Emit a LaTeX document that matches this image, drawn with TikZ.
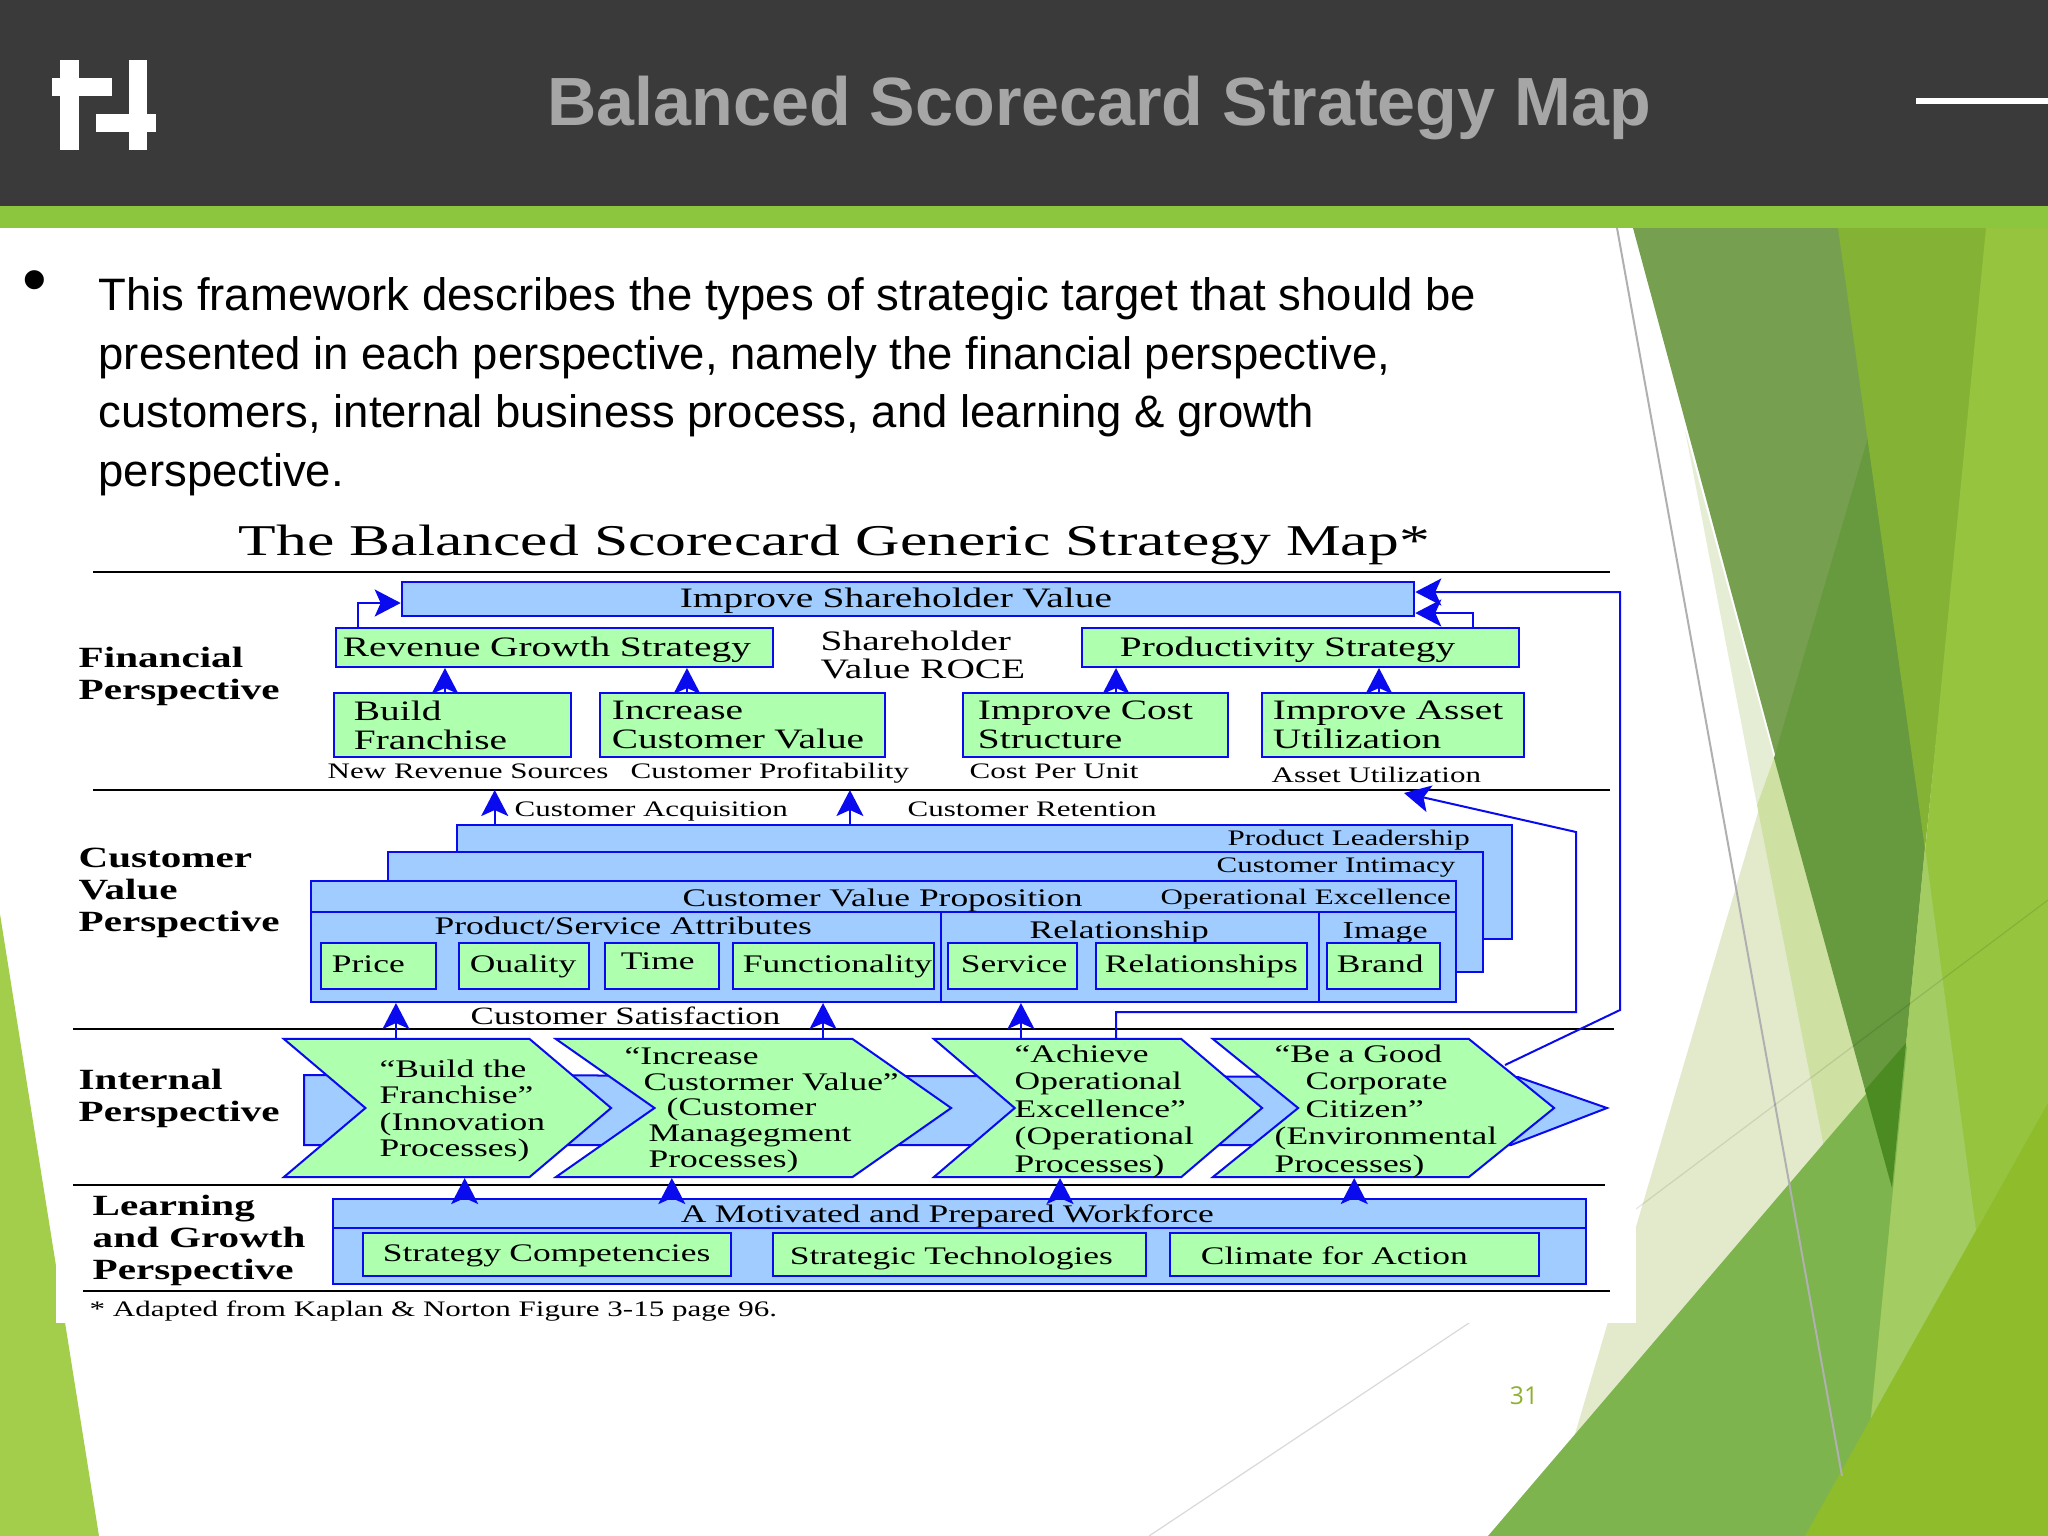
\documentclass[tikz,border=0pt]{standalone}
\usepackage{fontspec}
\setmainfont{Liberation Sans}
\newfontfamily\mapfont[FakeStretch=1.4]{Liberation Serif}
\newfontfamily\numfont{Open Sans}
\usepackage{xcolor}
\usepackage{tikz}
\usetikzlibrary{arrows.meta, shapes.symbols}
\definecolor{lineblue}{HTML}{0A0AEE}
\definecolor{boxblue}{HTML}{A0CCFF}
\definecolor{boxgreen}{HTML}{AEFFAE}
\definecolor{headdark}{HTML}{3A3A3A}
\definecolor{headgreen}{HTML}{8CC63F}
\tikzset{
mapbox/.style = {rectangle, draw=lineblue, line width=.02cm, inner ysep=0pt, align=left,
                 font=\mapfont\fontsize{7.2}{8.3}\selectfont},
finbox/.style = {font=\mapfont\fontsize{8}{8.3}\selectfont},
base/.style = {text depth=.02cm, text height=#1}
}
\tikzset{
gbox/.style = {mapbox, fill=boxgreen},
bbox/.style = {mapbox, fill=boxblue}
}
\tikzset{
chev/.style = {signal, signal to=east, signal from=west, draw=lineblue, fill=boxgreen,
               line width=.02cm, inner sep=0pt, minimum height=1.38cm}
}
\tikzset{
lbl/.style = {inner sep=0pt, anchor=base west, align=left,
              font=\mapfont\fontsize{7.2}{8.3}\selectfont},
lblsm/.style = {lbl, font=\mapfont\fontsize{6.3}{8}\selectfont},
lblbf/.style = {lbl, anchor=north west, font=\mapfont\bfseries\fontsize{8.35}{9.1}\selectfont},
lblch/.style = {lbl, anchor=north west, font=\mapfont\fontsize{7.2}{#1}\selectfont},
lblch/.default = 7.8
}
\tikzset{
arrow/.style = {draw=lineblue, line width=.02cm, -{Stealth[length=.26cm,width=.27cm,inset=.06cm]}},
rule/.style = {draw=black, line width=.02cm}
}
\begin{document}
\begin{tikzpicture}[x=.01cm,y=-.01cm]
    \useasboundingbox (0,0) rectangle (2048,1536);

    % facets behind the slide
    \fill[fill=white] (0,0) rectangle (2048,1536);
    \fill[fill={rgb,255:red,162;green,206;blue,76}] (0,914) -- (99,1536) -- (0,1536) -- cycle;
    \fill[fill={rgb,255:red,227;green,234;blue,203}] (1545,1536) -- (1930,228) -- (2048,228) -- (2048,1536) -- cycle;
    \fill[fill={rgb,255:red,230;green,237;blue,213}] (1685,430) -- (1774,758) -- (1757,805) -- cycle;
    \fill[fill={rgb,255:red,207;green,224;blue,163}] (1757,805) -- (1774,758) -- (1892,1188) -- (1900,1536) -- cycle;
    \fill[fill={rgb,255:red,118;green,160;blue,80}] (1633,228) -- (1840,228) -- (1925,847) -- (1892,1188) -- cycle;
    \fill[fill={rgb,255:red,103;green,153;blue,63}] (1869,434) -- (1925,847) -- (1892,1188) -- (1774,758) -- cycle;
    \fill[fill={rgb,255:red,132;green,178;blue,52}] (1838,228) -- (1989,228) -- (1925,849) -- cycle;
    \fill[fill={rgb,255:red,151;green,196;blue,63}] (1986,228) -- (2048,228) -- (2048,1536) -- (1858,1536) -- cycle;
    \fill[fill={rgb,255:red,163;green,204;blue,98}] (1925,847) -- (1976,1230) -- (1871,1418) -- cycle;
    \fill[fill={rgb,255:red,125;green,180;blue,78}] (1488,1536) -- (1907,1046) -- (1859,1536) -- cycle;
    \fill[fill={rgb,255:red,143;green,188;blue,43}] (1805,1536) -- (2048,1103) -- (2048,1536) -- cycle;
    \fill[fill={rgb,255:red,76;green,138;blue,34}] (1865,1090) -- (1906,1043) -- (1892,1188) -- cycle;
    \draw[draw={rgb,255:red,176;green,176;blue,176}, line width=.02cm] (1617,228) -- (1842,1476);
    \draw[draw=black, opacity=.1, line width=.012cm] (1636,1209) -- (2048,900);
    \draw[draw=black!15, line width=.012cm] (1149,1536) -- (1469,1323);
    \fill[fill=white] (56,516) rectangle (1636,1323);

    % header
    \fill[fill=headdark] (0,0) rectangle (2048,206);
    \fill[fill=headgreen] (0,206) rectangle (2048,228);
    \fill[fill=white] (60,60) rectangle (79,150);
    \fill[fill=white] (52,78) rectangle (112,96);
    \fill[fill=white] (129,60) rectangle (147,150);
    \fill[fill=white] (96,114) rectangle (156,132);
    \fill[fill=white] (1916,98) rectangle (2048,104);
    \node[inner sep=0pt, anchor=base west, text={rgb,255:red,166;green,166;blue,166},
          font=\bfseries\fontsize{19.4}{23}\selectfont] (slideTitle) at (547,125) {Balanced Scorecard Strategy Map};

    % slide text
    \node[inner sep=0pt, anchor=base west, font=\fontsize{12.4}{15}\selectfont] (bullet) at (22,303) {\fontsize{20}{20}\selectfont •};
    \node[inner sep=0pt, anchor=north west, align=left, font=\fontsize{12.93}{16.64}\selectfont] (bodyText) at (98,277)
        {This framework describes the types of strategic target that should be\\
         presented in each perspective, namely the financial perspective,\\
         customers, internal business process, and learning \& growth\\
         perspective.};
    \node[inner sep=0pt, text={rgb,255:red,143;green,176;blue,47}, font=\numfont\fontsize{7}{8}\selectfont] (slideNum) at (1524,1396) {31};

    % map title and rules
    \node[lbl, font=\mapfont\fontsize{12.5}{14}\selectfont] (mapTitle) at (238,555) {The Balanced Scorecard Generic Strategy Map*};
    \coordinate (rule1L) at (93,572);   \coordinate (rule1R) at (1610,572);
    \coordinate (rule2L) at (93,790);   \coordinate (rule2R) at (1610,790);
    \coordinate (rule3L) at (73,1029);  \coordinate (rule3R) at (1614,1029);
    \coordinate (rule4L) at (73,1185);  \coordinate (rule4R) at (1605,1185);
    \coordinate (rule5L) at (83,1291);  \coordinate (rule5R) at (1610,1291);
    \draw[rule] (rule1L) -- (rule1R);
    \draw[rule] (rule2L) -- (rule2R);
    \draw[rule] (rule3L) -- (rule3R);
    \draw[rule] (rule4L) -- (rule4R);
    \draw[rule] (rule5L) -- (rule5R);

    % perspective names
    \node[lblbf] (finName) at (78,646) {Financial\\Perspective};
    \node[lblbf] (custName) at (78,847) {Customer\\Value\\Perspective};
    \node[lblbf] (intName) at (78,1068) {Internal\\Perspective};
    \node[lblbf] (learnName) at (92,1194) {Learning\\and Growth\\Perspective};

    % financial perspective
    \node[bbox, finbox, base=.18cm, minimum height=.34cm, text width=4.56cm, inner xsep=2.78cm] (shareholder) at (908,599) {Improve Shareholder Value};
    \node[gbox, finbox, base=.19cm, minimum height=.39cm, text width=4.23cm, inner xsep=.07cm] (revenue) at (554.5,647.5) {Revenue Growth Strategy};
    \node[gbox, finbox, base=.19cm, minimum height=.39cm, text width=3.61cm, inner xsep=.38cm] (productivity) at (1300.5,647.5) {Productivity Strategy};
    \node[lbl, font=\mapfont\fontsize{8}{7.9}\selectfont] (roceText) at (820,678) {Shareholder\\Value ROCE};
    \node[gbox, finbox, minimum height=.64cm, text width=1.97cm, inner xsep=.20cm] (build) at (452.5,725) {Build\\Franchise};
    \node[gbox, finbox, minimum height=.64cm, text width=2.61cm, inner xsep=.12cm] (increase) at (742.5,725) {Increase\\Customer Value};
    \node[gbox, finbox, minimum height=.64cm, text width=2.35cm, inner xsep=.15cm] (cost) at (1095.5,725) {Improve Cost\\Structure};
    \node[gbox, finbox, minimum height=.64cm, text width=2.40cm, inner xsep=.11cm] (asset) at (1393,725) {Improve Asset\\Utilization};
    \node[lblsm] (newRev) at (327,778) {New Revenue Sources};
    \node[lblsm] (custProf) at (630,778) {Customer Profitability};
    \node[lblsm] (costUnit) at (969,778) {Cost Per Unit};
    \node[lblsm] (assetUtil) at (1271,782) {Asset Utilization};

    % customer value perspective
    \node[lblsm] (custAcq) at (514,816) {Customer Acquisition};
    \node[lblsm] (custRet) at (907,816) {Customer Retention};
    \node[bbox, minimum width=10.55cm, minimum height=1.14cm] (leadership) at (984.5,882) {};
    \node[bbox, minimum width=10.95cm, minimum height=1.20cm] (intimacy) at (935.5,912) {};
    \node[bbox, minimum width=11.45cm, minimum height=.31cm] (proposition) at (883.5,896.5) {};
    \node[bbox, minimum width=6.30cm, minimum height=.90cm] (attributes) at (626,957) {};
    \node[bbox, minimum width=3.78cm, minimum height=.90cm] (relation) at (1130,957) {};
    \node[bbox, minimum width=1.37cm, minimum height=.90cm] (imageBox) at (1387.5,957) {};
    \node[lblsm] (leadText) at (1227,845) {Product Leadership};
    \node[lblsm] (intimText) at (1216,872) {Customer Intimacy};
    \node[lbl] (propText) at (682,906) {Customer Value Proposition};
    \node[lblsm] (opText) at (1160,904) {Operational Excellence};
    \node[lbl] (attrText) at (434,934) {Product/Service Attributes};
    \node[lbl] (relText) at (1029,938) {Relationship};
    \node[lbl, font=\mapfont\fontsize{6.9}{8}\selectfont] (imgText) at (1342,938) {Image};
    \node[gbox, base=.14cm, minimum height=.46cm, text width=.93cm, inner xsep=.11cm] (price) at (378.5,966) {Price};
    \node[gbox, base=.14cm, minimum height=.46cm, text width=1.08cm, inner xsep=.11cm] (quality) at (524,966) {Ouality};
    \node[gbox, base=.08cm, minimum height=.46cm, text width=.82cm, inner xsep=.16cm] (timeBox) at (662,966) {Time};
    \node[gbox, base=.14cm, minimum height=.46cm, text width=1.81cm, inner xsep=.10cm] (function) at (833.5,966) {Functionality};
    \node[gbox, base=.14cm, minimum height=.46cm, text width=1.03cm, inner xsep=.13cm] (service) at (1012.5,966) {Service};
    \node[gbox, base=.14cm, minimum height=.46cm, text width=1.93cm, inner xsep=.09cm] (relations) at (1201.5,966) {Relationships};
    \node[gbox, base=.14cm, minimum height=.46cm, text width=.93cm, inner xsep=.10cm] (brand) at (1383.5,966) {Brand};
    \node[lbl, font=\mapfont\fontsize{7.1}{8}\selectfont] (custSat) at (470,1024) {Customer Satisfaction};

    % internal perspective
    \draw[draw=lineblue, fill=boxblue, line width=.02cm] (304,1075) -- (1518,1077) -- (1607,1108) -- (1511,1145) -- (304,1145) -- cycle;
    \node[chev, minimum width=3.27cm, signal pointer angle=80.5] (chevBuild) at (447.5,1108) {};
    \node[chev, minimum width=3.95cm, signal pointer angle=70] (chevValue) at (753.5,1108) {};
    \node[chev, minimum width=3.28cm, signal pointer angle=81] (chevAchieve) at (1098,1108) {};
    \node[chev, minimum width=3.41cm, signal pointer angle=78] (chevCitizen) at (1383.5,1108) {};
    \node[lblch=7.55] (buildText) at (379,1059) {“Build the\\Franchise”\\(Innovation\\Processes)};
    \node[lblch=7.3] (valueText) at (624,1047) {“Increase\\\hspace*{.19cm}Custormer Value”\\\hspace*{.42cm}(Customer\\\hspace*{.24cm}Managegment\\\hspace*{.24cm}Processes)};
    \node[lblch] (achieveText) at (1014,1044) {“Achieve\\Operational\\Excellence”\\(Operational\\Processes)};
    \node[lblch] (citizenText) at (1274,1044) {“Be a Good\\\hspace*{.31cm}Corporate\\\hspace*{.31cm}Citizen”\\(Environmental\\Processes)};

    % learning and growth perspective
    \node[bbox, base=.19cm, minimum height=.29cm, text width=5.57cm, inner xsep=3.48cm] (workforce) at (959.5,1213.5) {A Motivated and Prepared Workforce};
    \node[bbox, minimum width=12.53cm, minimum height=.56cm] (workBody) at (959.5,1256) {};
    \node[gbox, base=.15cm, minimum height=.43cm, text width=3.28cm, inner xsep=.20cm] (competency) at (547,1254.5) {Strategy Competencies};
    \node[gbox, base=.21cm, minimum height=.43cm, text width=3.39cm, inner xsep=.17cm] (technology) at (959.5,1254.5) {Strategic Technologies};
    \node[gbox, base=.21cm, minimum height=.43cm, text width=3.07cm, inner xsep=.31cm] (climate) at (1354.5,1254.5) {Climate for Action};
    \node[lblsm] (footNote) at (89,1316) {* Adapted from Kaplan \& Norton Figure 3-15 page 96.};

    % arrows
    \draw[arrow] ([xshift=-1.965cm]revenue.north) |- ([yshift=-.04cm]shareholder.west);
    \draw[arrow] ([xshift=1.725cm]productivity.north) |- ([yshift=-.14cm]shareholder.east);
    \draw[arrow] ([xshift=-.075cm]build.north) -- ([xshift=-.075cm]build.north |- revenue.south);
    \draw[arrow] ([xshift=-.555cm]increase.north) -- ([xshift=-.555cm]increase.north |- revenue.south);
    \draw[arrow] ([xshift=.205cm]cost.north) -- ([xshift=.205cm]cost.north |- productivity.south);
    \draw[arrow] ([xshift=-.14cm]asset.north) -- ([xshift=-.14cm]asset.north |- productivity.south);
    \draw[arrow] ([xshift=-4.895cm]leadership.north) -- ([xshift=-4.895cm]leadership.north |- rule2L);
    \draw[arrow] ([xshift=-1.345cm]leadership.north) -- ([xshift=-1.345cm]leadership.north |- rule2L);
    \draw[arrow] ([xshift=-.515cm]chevBuild.north) -- ([xshift=-.515cm]chevBuild.north |- attributes.south);
    \draw[arrow] ([xshift=.695cm]chevValue.north) -- ([xshift=.695cm]chevValue.north |- attributes.south);
    \draw[arrow] ([xshift=-.77cm]chevAchieve.north) -- ([xshift=-.77cm]chevAchieve.north |- relation.south);
    \draw[arrow] ([xshift=-4.945cm]workforce.north) -- ([xshift=-4.945cm]workforce.north |- chevBuild.south);
    \draw[arrow] ([xshift=-2.875cm]workforce.north) -- ([xshift=-2.875cm]workforce.north |- chevValue.south);
    \draw[arrow] ([xshift=1.005cm]workforce.north) -- ([xshift=1.005cm]workforce.north |- chevAchieve.south);
    \draw[arrow] ([xshift=3.945cm]workforce.north) -- ([xshift=3.945cm]workforce.north |- chevCitizen.south);
    \coordinate (retainTip) at (1404,793);
    \draw[arrow] ([xshift=.18cm]chevAchieve.north) -- (1116,1012) -- (1576,1012) -- (1576,832) -- (retainTip);
    \draw[arrow] ([xshift=1.215cm,yshift=.43cm]chevCitizen.center) -- (1620,1010) -- (1620,592) -- ([yshift=.07cm]shareholder.east);
\end{tikzpicture}
\end{document}
